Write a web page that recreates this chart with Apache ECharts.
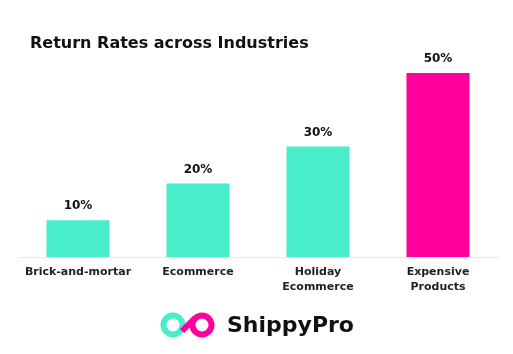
<!DOCTYPE html>
<html>
<head>
<meta charset="utf-8">
<script src="https://cdn.jsdelivr.net/npm/echarts@6/dist/echarts.min.js"></script>
<style>
  html, body { margin: 0; padding: 0; background: #fff; }
  #main { width: 513px; height: 354px; }
</style>
</head>
<body>
<div id="main"></div>
<script>
var categories = ['Brick-and-mortar', 'Ecommerce', 'Holiday\nEcommerce', 'Expensive\nProducts'];
var returnRates = [10, 20, 30, 50];
var barColors = ['#48EDC9', '#48EDC9', '#48EDC9', '#FF009C'];

var chart = echarts.init(document.getElementById('main'));

var font = '"DejaVu Sans", sans-serif';

var option = {
    backgroundColor: '#fff',
    animation: false,
    title: {
        text: 'Return Rates across Industries',
        left: 25,
        top: 31,
        textStyle: {fontFamily: font, fontWeight: 'bold', fontSize: 16, color: '#111'}
    },
    grid: {left: 18, right: 15, top: 73, bottom: 97},
    xAxis: {
        type: 'category',
        data: categories,
        axisLine: {lineStyle: {color: '#e6e6f2', width: 1}},
        axisTick: {show: false},
        axisLabel: {
            interval: 0,
            margin: 8,
            fontFamily: font,
            fontWeight: 'bold',
            fontSize: 11,
            color: '#222',
            lineHeight: 15
        }
    },
    yAxis: {
        type: 'value',
        min: 0,
        max: 50,
        show: false,
        splitLine: {show: false}
    },
    series: [{
        type: 'bar',
        barWidth: 63,
        data: returnRates.map(function (v, i) {
            return {value: v, itemStyle: {color: barColors[i]}};
        }),
        label: {
            show: true,
            position: 'top',
            distance: 8,
            formatter: '{c}%',
            fontFamily: font,
            fontWeight: 'bold',
            fontSize: 12,
            color: '#111'
        }
    }],
    graphic: [
        // logo: two linked rings
        {
            type: 'circle',
            shape: {cx: 173, cy: 325, r: 9.5},
            style: {fill: 'none', stroke: '#48EDC9', lineWidth: 6}
        },
        {
            type: 'circle',
            shape: {cx: 202, cy: 325, r: 9.5},
            style: {fill: 'none', stroke: '#FF009C', lineWidth: 6}
        },
        {
            type: 'line',
            shape: {x1: 195, y1: 318, x2: 182, y2: 331},
            style: {stroke: '#FF009C', lineWidth: 6, lineCap: 'butt'}
        },
        {
            type: 'text',
            left: 227,
            top: 315,
            style: {
                text: 'ShippyPro',
                fontFamily: font,
                fontWeight: 'bold',
                fontSize: 22,
                fill: '#111'
            }
        }
    ]
};

chart.setOption(option);
</script>
</body>
</html>
